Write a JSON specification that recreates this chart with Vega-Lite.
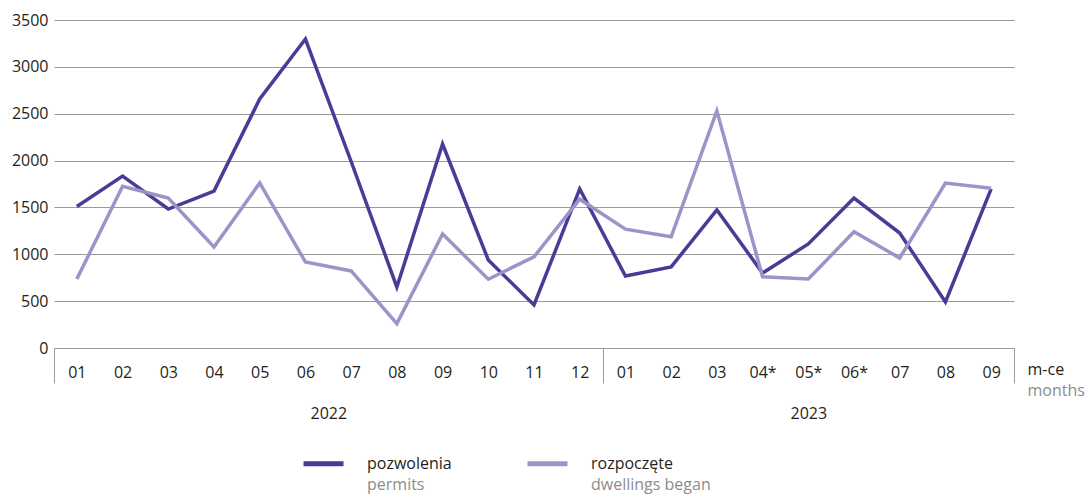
{
  "$schema": "https://vega.github.io/schema/vega-lite/v6.json",
  "width": 960,
  "height": 328,
  "autosize": {"type": "none"},
  "padding": {"left": 54, "top": 20, "right": 73, "bottom": 146},
  "background": "white",
  "config": {
    "font": "Open Sans",
    "view": {"stroke": null},
    "axis": {"labelFontSize": 16, "labelColor": "#231f20", "titleFontSize": 16, "titleFontWeight": "normal"},
    "legend": {"labelFontSize": 16}
  },
  "data": {
    "values": [
      {"key": "2022-01", "i": 0, "series": "pozwolenia", "series_en": "permits", "value": 1510},
      {"key": "2022-02", "i": 1, "series": "pozwolenia", "series_en": "permits", "value": 1835},
      {"key": "2022-03", "i": 2, "series": "pozwolenia", "series_en": "permits", "value": 1483},
      {"key": "2022-04", "i": 3, "series": "pozwolenia", "series_en": "permits", "value": 1675},
      {"key": "2022-05", "i": 4, "series": "pozwolenia", "series_en": "permits", "value": 2657},
      {"key": "2022-06", "i": 5, "series": "pozwolenia", "series_en": "permits", "value": 3297},
      {"key": "2022-07", "i": 6, "series": "pozwolenia", "series_en": "permits", "value": 1990},
      {"key": "2022-08", "i": 7, "series": "pozwolenia", "series_en": "permits", "value": 651},
      {"key": "2022-09", "i": 8, "series": "pozwolenia", "series_en": "permits", "value": 2176},
      {"key": "2022-10", "i": 9, "series": "pozwolenia", "series_en": "permits", "value": 939},
      {"key": "2022-11", "i": 10, "series": "pozwolenia", "series_en": "permits", "value": 459},
      {"key": "2022-12", "i": 11, "series": "pozwolenia", "series_en": "permits", "value": 1697},
      {"key": "2023-01", "i": 12, "series": "pozwolenia", "series_en": "permits", "value": 768},
      {"key": "2023-02", "i": 13, "series": "pozwolenia", "series_en": "permits", "value": 866},
      {"key": "2023-03", "i": 14, "series": "pozwolenia", "series_en": "permits", "value": 1473},
      {"key": "2023-04*", "i": 15, "series": "pozwolenia", "series_en": "permits", "value": 800},
      {"key": "2023-05*", "i": 16, "series": "pozwolenia", "series_en": "permits", "value": 1110},
      {"key": "2023-06*", "i": 17, "series": "pozwolenia", "series_en": "permits", "value": 1600},
      {"key": "2023-07", "i": 18, "series": "pozwolenia", "series_en": "permits", "value": 1227},
      {"key": "2023-08", "i": 19, "series": "pozwolenia", "series_en": "permits", "value": 491},
      {"key": "2023-09", "i": 20, "series": "pozwolenia", "series_en": "permits", "value": 1697},
      {"key": "2022-01", "i": 0, "series": "rozpoczęte", "series_en": "dwellings began", "value": 736},
      {"key": "2022-02", "i": 1, "series": "rozpoczęte", "series_en": "dwellings began", "value": 1725},
      {"key": "2022-03", "i": 2, "series": "rozpoczęte", "series_en": "dwellings began", "value": 1600},
      {"key": "2022-04", "i": 3, "series": "rozpoczęte", "series_en": "dwellings began", "value": 1078},
      {"key": "2022-05", "i": 4, "series": "rozpoczęte", "series_en": "dwellings began", "value": 1761},
      {"key": "2022-06", "i": 5, "series": "rozpoczęte", "series_en": "dwellings began", "value": 918},
      {"key": "2022-07", "i": 6, "series": "rozpoczęte", "series_en": "dwellings began", "value": 822},
      {"key": "2022-08", "i": 7, "series": "rozpoczęte", "series_en": "dwellings began", "value": 260},
      {"key": "2022-09", "i": 8, "series": "rozpoczęte", "series_en": "dwellings began", "value": 1216},
      {"key": "2022-10", "i": 9, "series": "rozpoczęte", "series_en": "dwellings began", "value": 734},
      {"key": "2022-11", "i": 10, "series": "rozpoczęte", "series_en": "dwellings began", "value": 973},
      {"key": "2022-12", "i": 11, "series": "rozpoczęte", "series_en": "dwellings began", "value": 1588},
      {"key": "2023-01", "i": 12, "series": "rozpoczęte", "series_en": "dwellings began", "value": 1268},
      {"key": "2023-02", "i": 13, "series": "rozpoczęte", "series_en": "dwellings began", "value": 1187},
      {"key": "2023-03", "i": 14, "series": "rozpoczęte", "series_en": "dwellings began", "value": 2530},
      {"key": "2023-04*", "i": 15, "series": "rozpoczęte", "series_en": "dwellings began", "value": 760},
      {"key": "2023-05*", "i": 16, "series": "rozpoczęte", "series_en": "dwellings began", "value": 736},
      {"key": "2023-06*", "i": 17, "series": "rozpoczęte", "series_en": "dwellings began", "value": 1240},
      {"key": "2023-07", "i": 18, "series": "rozpoczęte", "series_en": "dwellings began", "value": 960},
      {"key": "2023-08", "i": 19, "series": "rozpoczęte", "series_en": "dwellings began", "value": 1760},
      {"key": "2023-09", "i": 20, "series": "rozpoczęte", "series_en": "dwellings began", "value": 1705}
    ]
  },
  "layer": [
    {
      "mark": {"type": "line", "strokeWidth": 3.5, "strokeJoin": "miter"},
      "encoding": {
        "x": {
          "field": "key", "type": "nominal", "sort": null,
          "scale": {"type": "point", "padding": 0.5},
          "axis": {
            "orient": "bottom",
            "labelExpr": "slice(datum.value, 5)",
            "labelAngle": 0,
            "labelPadding": 16,
            "ticks": false,
            "grid": false,
            "domain": true,
            "domainColor": "#9a9a9a",
            "domainWidth": 1,
            "title": "m-ce",
            "titleColor": "#231f20",
            "titleAlign": "left",
            "titleBaseline": "middle",
            "titleX": 973,
            "titleY": 21
          }
        },
        "y": {
          "field": "value", "type": "quantitative",
          "scale": {"domain": [0, 3500], "nice": false, "zero": true},
          "axis": {
            "values": [0, 500, 1000, 1500, 2000, 2500, 3000, 3500],
            "format": "d",
            "title": null,
            "domain": false,
            "ticks": false,
            "grid": true,
            "gridColor": "#9a9a9a",
            "gridWidth": 1,
            "labelPadding": 6
          }
        },
        "color": {
          "field": "series", "type": "nominal",
          "scale": {"domain": ["pozwolenia", "rozpoczęte"], "range": ["#4a3b97", "#9e93c8"]},
          "legend": {
            "title": null,
            "orient": "none",
            "legendX": 247,
            "legendY": 421,
            "direction": "horizontal",
            "symbolType": "stroke",
            "symbolSize": 1600,
            "symbolStrokeWidth": 5,
            "labelOffset": 21,
            "labelColor": "#231f20",
            "labelFontSize": 16,
            "columnPadding": 65
          }
        },
        "opacity": {
          "field": "series_en", "type": "nominal",
          "scale": {"domain": ["permits", "dwellings began"], "range": [1, 1]},
          "legend": {
            "title": null,
            "orient": "none",
            "legendX": 247,
            "legendY": 442,
            "direction": "horizontal",
            "symbolType": "stroke",
            "symbolSize": 1600,
            "symbolStrokeWidth": 5,
            "symbolStrokeColor": "transparent",
            "symbolOpacity": 0,
            "labelOffset": 21,
            "labelColor": "#8c8c8c",
            "labelFontSize": 16,
            "columnPadding": 92,
            "encode": {"symbols": {"update": {"opacity": {"value": 0}, "stroke": {"value": "transparent"}}}}
          }
        }
      }
    },
    {
      "mark": {"type": "point", "opacity": 0},
      "encoding": {
        "x": {
          "field": "i", "type": "quantitative",
          "scale": {"domain": [0, 21], "nice": false, "zero": false},
          "axis": {
            "orient": "bottom",
            "values": [0, 6, 12, 16.5, 21],
            "labelExpr": "datum.value == 6 ? '2022' : datum.value == 16.5 ? '2023' : ''",
            "labelPadding": 22,
            "labelFlush": false,
            "labelOverlap": false,
            "domain": false,
            "grid": false,
            "ticks": true,
            "tickSize": 35,
            "tickWidth": 1,
            "tickColor": {"condition": {"test": "datum.value == 6 || datum.value == 16.5", "value": "transparent"}, "value": "#9a9a9a"},
            "title": "months",
            "titleColor": "#8c8c8c",
            "titleAlign": "left",
            "titleBaseline": "middle",
            "titleX": 973,
            "titleY": 42
          }
        }
      }
    }
  ],
  "resolve": {"scale": {"x": "independent"}, "axis": {"x": "independent"}}
}
